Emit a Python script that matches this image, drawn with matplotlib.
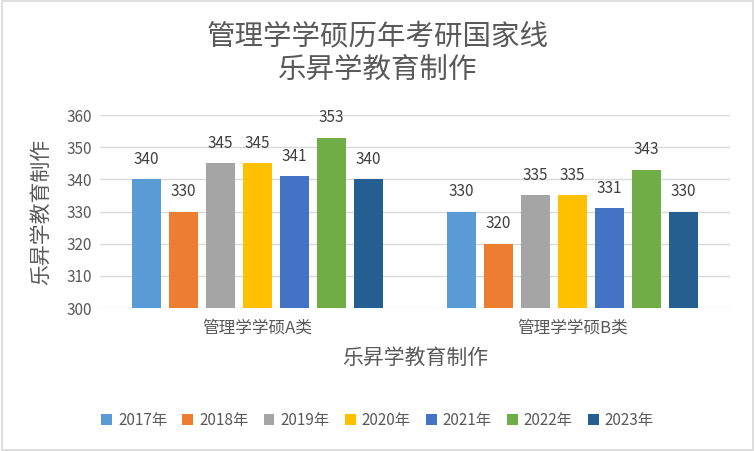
import numpy as np
import matplotlib.pyplot as plt
from matplotlib.patches import Rectangle

plt.rcParams['font.family'] = ['Noto Sans CJK SC', 'DejaVu Sans']

groups = ['管理学学硕A类', '管理学学硕B类']
years = ['2017年', '2018年', '2019年', '2020年', '2021年', '2022年', '2023年']
scores = {
    '2017年': [340, 330],
    '2018年': [330, 320],
    '2019年': [345, 335],
    '2020年': [345, 335],
    '2021年': [341, 331],
    '2022年': [353, 343],
    '2023年': [340, 330],
}
colors = ['#5B9BD5', '#ED7D31', '#A5A5A5', '#FFC000', '#4472C4', '#70AD47', '#255E91']
text_c = '#595959'

fig = plt.figure(figsize=(7.55, 4.51), dpi=100)
fig.patches.append(Rectangle((0.002, 0.003), 0.995, 0.994, transform=fig.transFigure,
                             fill=False, edgecolor='#d9d9d9', linewidth=1.2))
ax = fig.add_axes([0.1325, 0.317, 0.8345, 0.428])

x = np.arange(len(groups))
pitch = 0.1175
width = 0.092
for i, y in enumerate(years):
    pos = x + (i - 3) * pitch
    ax.bar(pos, np.array(scores[y]) - 300, width, bottom=300, color=colors[i], label=y, zorder=3)
    for p, v in zip(pos, scores[y]):
        ax.text(p, v + 3.6, str(v), ha='center', va='bottom', fontsize=11, color='#404040')

ax.set_xlim(-0.5, 1.5)
ax.set_ylim(300, 360)
ax.set_yticks(range(300, 361, 10))
ax.set_xticks(x)
ax.set_xticklabels(groups, fontsize=12, color=text_c)
ax.tick_params(axis='y', labelsize=11, labelcolor=text_c, length=0, pad=6)
ax.tick_params(axis='x', length=0, pad=8)
ax.grid(axis='y', color='#d9d9d9', linewidth=1, zorder=0)
for s in ax.spines.values():
    s.set_visible(False)

ax.set_xlabel('乐昇学教育制作', fontsize=15, color=text_c, labelpad=8)
ax.set_ylabel('乐昇学教育制作', fontsize=15, color=text_c, labelpad=10)

fig.text(0.5, 0.918, '管理学学硕历年考研国家线', ha='center', va='center', fontsize=20.5, color=text_c)
fig.text(0.5, 0.845, '乐昇学教育制作', ha='center', va='center', fontsize=20.5, color=text_c)

leg = fig.legend(loc='center', bbox_to_anchor=(0.5, 0.068), ncol=7, frameon=False,
                 fontsize=11, handlelength=0.7, handleheight=0.7, handletextpad=0.4,
                 columnspacing=1.0)
for t in leg.get_texts():
    t.set_color(text_c)

plt.savefig('out.png', dpi=100)
